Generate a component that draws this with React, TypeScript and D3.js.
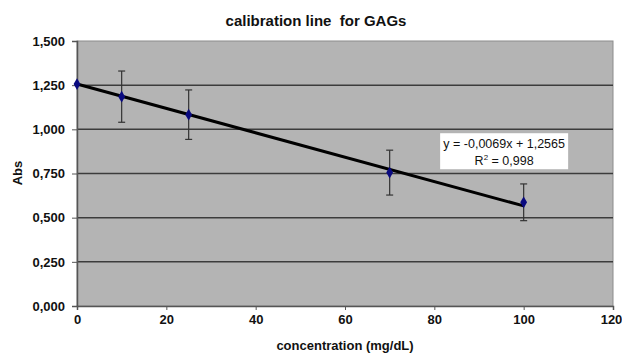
import React, { useEffect, useRef } from 'react';
import * as d3 from 'd3';

// calibration data
const concentrations = [0, 10, 25, 70, 100];
const absorbance = [1.256, 1.185, 1.083, 0.755, 0.587];
const errors = [0, 0.145, 0.14, 0.127, 0.104];

const xTicks = [0, 20, 40, 60, 80, 100, 120];
const yTicks = [0, 0.25, 0.5, 0.75, 1.0, 1.25, 1.5];

const slope = -0.0069;
const intercept = 1.2565;
const equationText = 'y = -0,0069x + 1,2565';
const r2Text = ' = 0,998';

const title = 'calibration line  for GAGs';
const xLabel = 'concentration (mg/dL)';
const yLabel = 'Abs';

const App: React.FC = () => {
  const svgRef = useRef<SVGSVGElement>(null);

  const width = 622;
  const height = 353;

  useEffect(() => {
    if (!svgRef.current) return;
    const svg = d3.select(svgRef.current);
    svg.selectAll('*').remove();

    const margin = { top: 41, right: 9, bottom: 47, left: 77 };
    const innerWidth = width - margin.left - margin.right;
    const innerHeight = height - margin.top - margin.bottom;
    const font = '"Liberation Sans", Arial, sans-serif';

    svg.append('rect').attr('width', width).attr('height', height).attr('fill', '#fff');

    const g = svg.append('g').attr('transform', `translate(${margin.left},${margin.top})`);

    const x = d3.scaleLinear().domain([0, 120]).range([0, innerWidth]);
    const y = d3.scaleLinear().domain([0, 1.5]).range([innerHeight, 0]);

    // plot area
    g.append('rect')
      .attr('width', innerWidth)
      .attr('height', innerHeight)
      .attr('fill', '#b4b4b4')
      .attr('stroke', '#8c8c8c')
      .attr('stroke-width', 1);

    // gridlines
    g.selectAll('.grid')
      .data(yTicks.filter(t => t > 0 && t < 1.5))
      .enter()
      .append('line')
      .attr('x1', 0)
      .attr('x2', innerWidth)
      .attr('y1', d => y(d))
      .attr('y2', d => y(d))
      .attr('stroke', '#3c3c3c')
      .attr('stroke-width', 1.5);

    // axes
    const fmt = (d: d3.NumberValue) => d3.format('.3f')(+d).replace('.', ',');
    const yAxis = g.append('g')
      .call(d3.axisLeft(y).tickValues(yTicks).tickFormat(fmt).tickSize(5).tickPadding(7));
    yAxis.select('.domain').attr('stroke', '#555').attr('stroke-width', 1.5);
    yAxis.selectAll('line').attr('stroke', '#555');
    yAxis.selectAll('text')
      .style('font-family', font)
      .style('font-size', '13px')
      .style('font-weight', 'bold')
      .attr('fill', '#111');

    const xAxis = g.append('g')
      .attr('transform', `translate(0,${innerHeight})`)
      .call(d3.axisBottom(x).tickValues(xTicks).tickSize(4).tickPadding(5));
    xAxis.select('.domain').attr('stroke', '#555').attr('stroke-width', 1.5);
    xAxis.selectAll('line').attr('stroke', '#555');
    xAxis.selectAll('text')
      .style('font-family', font)
      .style('font-size', '13px')
      .style('font-weight', 'bold')
      .attr('fill', '#111');
    // last label sits at the right edge, as in the original it is nearly clipped
    xAxis.selectAll<SVGTextElement, number>('text')
      .filter(d => d === 120)
      .attr('dx', -2);

    const points = concentrations.map((c, i) => ({ c, a: absorbance[i], e: errors[i] }));

    // error bars
    const eb = g.selectAll('.err')
      .data(points.filter(p => p.e > 0))
      .enter()
      .append('g')
      .attr('stroke', '#333')
      .attr('stroke-width', 1.2);
    eb.append('line')
      .attr('x1', d => x(d.c)).attr('x2', d => x(d.c))
      .attr('y1', d => y(d.a + d.e)).attr('y2', d => y(d.a - d.e));
    eb.append('line')
      .attr('x1', d => x(d.c) - 3.5).attr('x2', d => x(d.c) + 3.5)
      .attr('y1', d => y(d.a + d.e)).attr('y2', d => y(d.a + d.e));
    eb.append('line')
      .attr('x1', d => x(d.c) - 3.5).attr('x2', d => x(d.c) + 3.5)
      .attr('y1', d => y(d.a - d.e)).attr('y2', d => y(d.a - d.e));

    // trend line
    const xs = d3.extent(concentrations) as [number, number];
    g.append('line')
      .attr('x1', x(xs[0]))
      .attr('y1', y(slope * xs[0] + intercept))
      .attr('x2', x(xs[1]))
      .attr('y2', y(slope * xs[1] + intercept))
      .attr('stroke', '#000')
      .attr('stroke-width', 3);

    // markers
    g.selectAll('.pt')
      .data(points)
      .enter()
      .append('path')
      .attr('d', d3.symbol().type(d3.symbolDiamond).size(40))
      .attr('transform', d => `translate(${x(d.c)},${y(d.a)})`)
      .attr('fill', '#0a0a80');

    // equation label (placed in data space, right of the 70 point)
    const bx = x(81.3);
    const by = y(0.978);
    const label = g.append('g').attr('transform', `translate(${bx},${by})`);
    label.append('rect')
      .attr('width', 128)
      .attr('height', 36)
      .attr('fill', '#fff');
    label.append('text')
      .attr('x', 64)
      .attr('y', 15)
      .attr('text-anchor', 'middle')
      .style('font-family', font)
      .style('font-size', '12.5px')
      .attr('fill', '#111')
      .text(equationText);
    const r2 = label.append('text')
      .attr('x', 64)
      .attr('y', 32)
      .attr('text-anchor', 'middle')
      .style('font-family', font)
      .style('font-size', '12.5px')
      .attr('fill', '#111');
    r2.append('tspan').text('R');
    r2.append('tspan').attr('dy', -5).style('font-size', '8px').text('2');
    r2.append('tspan').attr('dy', 5).text(r2Text);

    // title and axis titles
    svg.append('text')
      .attr('x', 316)
      .attr('y', 26)
      .attr('text-anchor', 'middle')
      .style('font-family', font)
      .style('font-size', '15px')
      .style('font-weight', 'bold')
      .style('white-space', 'pre')
      .attr('fill', '#111')
      .text(title);

    svg.append('text')
      .attr('x', margin.left + innerWidth / 2)
      .attr('y', 350)
      .attr('text-anchor', 'middle')
      .style('font-family', font)
      .style('font-size', '13px')
      .style('font-weight', 'bold')
      .attr('fill', '#111')
      .text(xLabel);

    svg.append('text')
      .attr('transform', 'rotate(-90)')
      .attr('x', -173)
      .attr('y', 22)
      .attr('text-anchor', 'middle')
      .style('font-family', font)
      .style('font-size', '13px')
      .style('font-weight', 'bold')
      .attr('fill', '#111')
      .text(yLabel);
  }, []);

  return (
    <svg
      ref={svgRef}
      width={width}
      height={height}
      style={{ position: 'absolute', left: 0, top: 0 }}
    />
  );
};

export default App;
